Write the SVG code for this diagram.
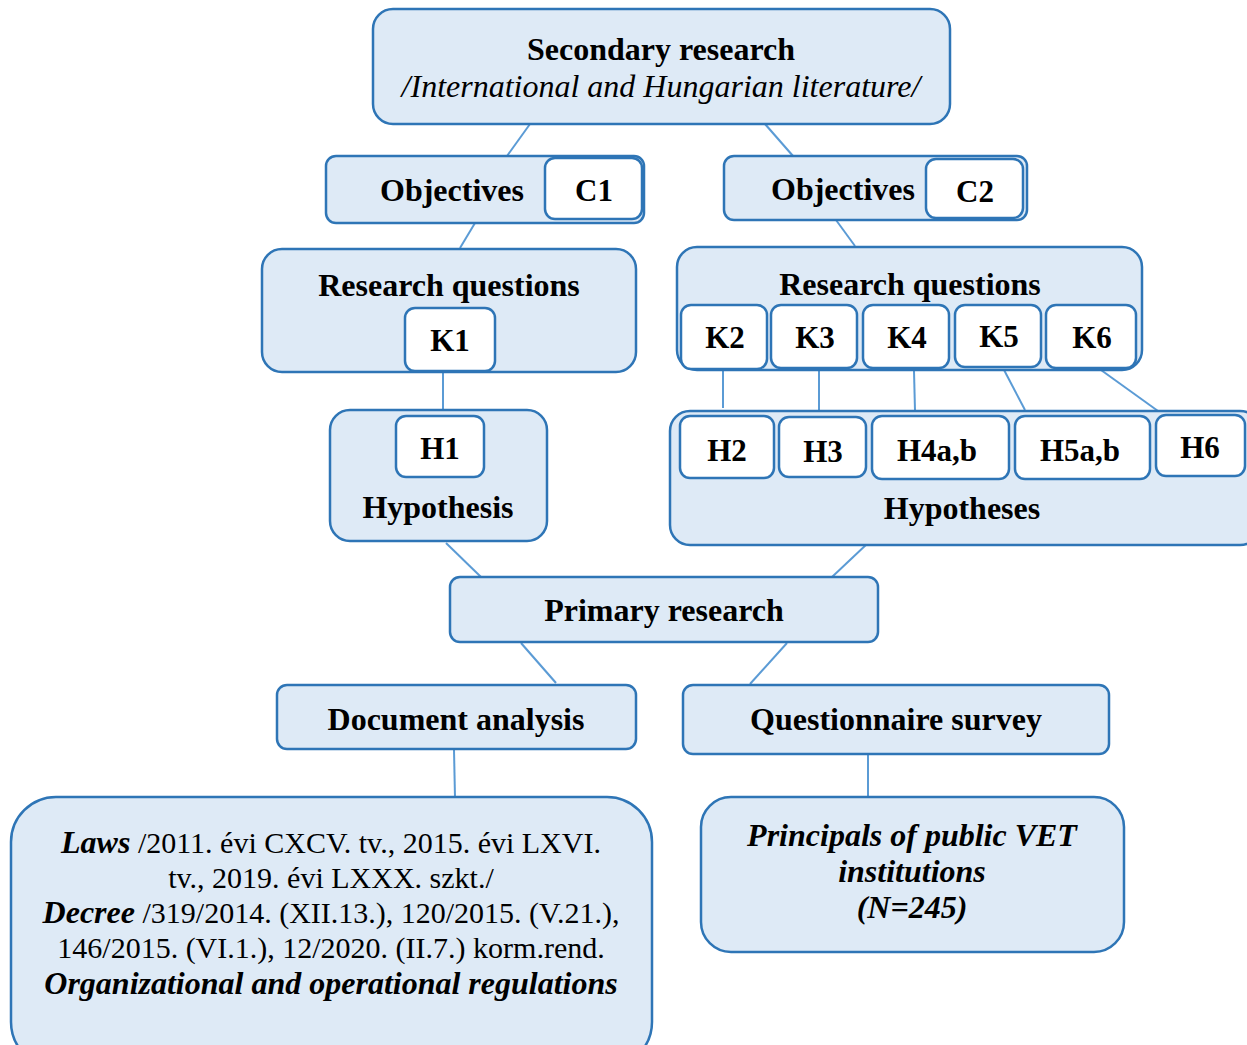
<svg xmlns="http://www.w3.org/2000/svg" width="1247" height="1045" viewBox="0 0 1247 1045">
<style>
.box{fill:#DEEAF6;stroke:#2E75B6;stroke-width:2.5}
.wbox{fill:#FFFFFF;stroke:#2E75B6;stroke-width:2.5}
.con{stroke:#5B9BD5;stroke-width:2;fill:none}
text{font-family:"Liberation Serif","Times New Roman",serif;fill:#000;text-anchor:middle}
.b{font-weight:bold;font-size:32px}
.k{font-weight:bold;font-size:31px}
.r{font-size:30px}
.i{font-style:italic;font-size:32px}
.bi{font-weight:bold;font-style:italic;font-size:32px}
</style>
<rect width="1247" height="1045" fill="#FFFFFF"/>
<g id="connectors">
<line class="con" x1="530" y1="124" x2="507" y2="156"/>
<line class="con" x1="765" y1="124" x2="793" y2="156"/>
<line class="con" x1="475" y1="223" x2="460" y2="248"/>
<line class="con" x1="836" y1="220" x2="855" y2="246"/>
<line class="con" x1="443" y1="372" x2="443" y2="410"/>
<line class="con" x1="723" y1="370" x2="723" y2="408"/>
<line class="con" x1="819" y1="371" x2="819" y2="410"/>
<line class="con" x1="914" y1="371" x2="915" y2="411"/>
<line class="con" x1="1003" y1="368" x2="1025" y2="410"/>
<line class="con" x1="1101" y1="370" x2="1158" y2="411"/>
<line class="con" x1="446" y1="543" x2="481" y2="577"/>
<line class="con" x1="868" y1="543" x2="832" y2="577"/>
<line class="con" x1="521" y1="643" x2="556" y2="683"/>
<line class="con" x1="787" y1="643" x2="750" y2="684"/>
<line class="con" x1="454" y1="750" x2="455" y2="797"/>
<line class="con" x1="868" y1="755" x2="868" y2="797"/>
</g>
<g id="secondary">
<rect class="box" x="373" y="9" width="577" height="115" rx="20"/>
<text class="b" x="661" y="60">Secondary research</text>
<text class="i" x="661" y="97">/International and Hungarian literature/</text>
</g>
<g id="objectives1">
<rect class="box" x="326" y="156" width="318" height="67" rx="10"/>
<text class="b" x="452" y="201">Objectives</text>
<g id="c1">
<rect class="wbox" x="545" y="158" width="97" height="61" rx="10"/>
<text class="k" x="594" y="201">C1</text>
</g>
</g>
<g id="objectives2">
<rect class="box" x="724" y="156" width="303" height="64" rx="10"/>
<text class="b" x="843" y="200">Objectives</text>
<g id="c2">
<rect class="wbox" x="926" y="159" width="97" height="59" rx="10"/>
<text class="k" x="975" y="202">C2</text>
</g>
</g>
<g id="rq1">
<rect class="box" x="262" y="249" width="374" height="123" rx="20"/>
<text class="b" x="449" y="296">Research questions</text>
<g id="k1">
<rect class="wbox" x="405" y="308" width="90" height="63" rx="10"/>
<text class="k" x="450" y="351">K1</text>
</g>
</g>
<g id="hyp1">
<rect class="box" x="330" y="410" width="217" height="131" rx="20"/>
<g id="h1">
<rect class="wbox" x="396" y="416" width="88" height="61" rx="10"/>
<text class="k" x="440" y="459">H1</text>
</g>
<text class="b" x="438" y="518">Hypothesis</text>
</g>
<g id="rq2">
<rect class="box" x="677" y="247" width="465" height="123" rx="20"/>
<text class="b" x="910" y="295">Research questions</text>
<g id="k2"><rect class="wbox" x="681" y="305" width="86" height="64" rx="10"/><text class="k" x="725" y="348">K2</text></g>
<g id="k3"><rect class="wbox" x="771" y="305" width="86" height="63" rx="10"/><text class="k" x="815" y="348">K3</text></g>
<g id="k4"><rect class="wbox" x="863" y="305" width="86" height="63" rx="10"/><text class="k" x="907" y="348">K4</text></g>
<g id="k5"><rect class="wbox" x="955" y="305" width="86" height="62" rx="10"/><text class="k" x="999" y="347">K5</text></g>
<g id="k6"><rect class="wbox" x="1046" y="305" width="90" height="63" rx="10"/><text class="k" x="1092" y="348">K6</text></g>
</g>
<g id="hyp2">
<rect class="box" x="670" y="411" width="590" height="134" rx="20"/>
<g id="h2"><rect class="wbox" x="680" y="416" width="94" height="62" rx="10"/><text class="k" x="727" y="461">H2</text></g>
<g id="h3"><rect class="wbox" x="779" y="417" width="87" height="60" rx="10"/><text class="k" x="823" y="462">H3</text></g>
<g id="h4"><rect class="wbox" x="872" y="416" width="137" height="63" rx="10"/><text class="k" x="937" y="461">H4a,b</text></g>
<g id="h5"><rect class="wbox" x="1015" y="416" width="135" height="63" rx="10"/><text class="k" x="1080" y="461">H5a,b</text></g>
<g id="h6"><rect class="wbox" x="1156" y="415" width="89" height="61" rx="10"/><text class="k" x="1200" y="458">H6</text></g>
<text class="b" x="962" y="519">Hypotheses</text>
</g>
<g id="primary">
<rect class="box" x="450" y="577" width="428" height="65" rx="10"/>
<text class="b" x="664" y="621">Primary research</text>
</g>
<g id="document">
<rect class="box" x="277" y="685" width="359" height="64" rx="10"/>
<text class="b" x="456" y="730">Document analysis</text>
</g>
<g id="questionnaire">
<rect class="box" x="683" y="685" width="426" height="69" rx="10"/>
<text class="b" x="896" y="730">Questionnaire survey</text>
</g>
<g id="laws">
<rect class="box" x="11" y="797" width="641" height="270" rx="45"/>
<text class="r" x="331" y="853"><tspan class="bi">Laws</tspan> /2011. évi CXCV. tv., 2015. évi LXVI.</text>
<text class="r" x="331" y="888">tv., 2019. évi LXXX. szkt./</text>
<text class="r" x="331" y="923"><tspan class="bi">Decree</tspan> /319/2014. (XII.13.), 120/2015. (V.21.),</text>
<text class="r" x="331" y="958">146/2015. (VI.1.), 12/2020. (II.7.) korm.rend.</text>
<text class="bi" x="331" y="994">Organizational and operational regulations</text>
</g>
<g id="principals">
<rect class="box" x="701" y="797" width="423" height="155" rx="30"/>
<text class="bi" x="912" y="846">Principals of public VET</text>
<text class="bi" x="912" y="882">institutions</text>
<text class="bi" x="912" y="918">(N=245)</text>
</g>
</svg>
